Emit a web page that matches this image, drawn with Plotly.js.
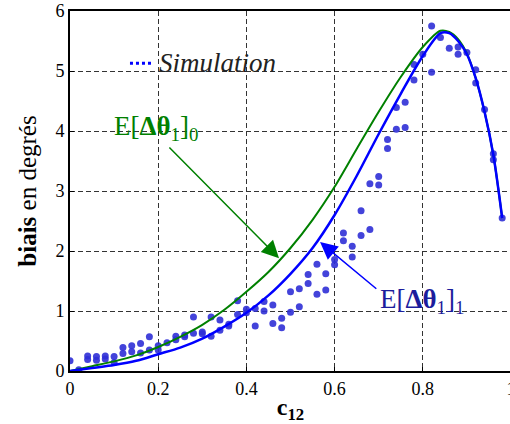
<!DOCTYPE html>
<html>
<head>
<meta charset="utf-8">
<script src="https://cdn.plot.ly/plotly-3.0.1.min.js"></script>
<style>
html,body{margin:0;padding:0;overflow:hidden;background:#fff;}
#chart{width:520px;height:424px;}
</style>
</head>
<body>
<div id="chart"></div>
<script>
// Simulation points (two runs per c12 value)
const simX  = [0.0, 0.02, 0.04, 0.06, 0.08, 0.10, 0.12, 0.14, 0.16, 0.18, 0.20, 0.22, 0.24, 0.26, 0.28, 0.30, 0.32, 0.34, 0.36, 0.38, 0.40, 0.42, 0.44, 0.46, 0.48, 0.50, 0.52, 0.54, 0.56, 0.58, 0.60, 0.62, 0.64, 0.66, 0.68, 0.70, 0.72, 0.74, 0.76, 0.78, 0.80, 0.82, 0.84, 0.86, 0.88, 0.90, 0.92, 0.94, 0.96, 0.98];
const simA  = [0.17, 0.02, 0.25, 0.24, 0.25, 0.24, 0.39, 0.42, 0.46, 0.57, 0.42, 0.47, 0.58, 0.60, 0.90, 0.65, 0.90, 0.85, 0.78, 1.17, 1.03, 1.04, 1.16, 1.10, 0.88, 1.32, 1.37, 1.61, 1.78, 1.62, 1.77, 2.17, 2.08, 2.67, 2.36, 3.24, 3.71, 4.03, 4.48, 4.85, 5.28, 5.75, 5.56, 5.38, 5.28, 5.31, 5.02, 4.36, 3.62, 2.55];
const simB  = [null, null, 0.19, 0.18, 0.20, 0.14, 0.29, 0.32, 0.30, 0.35, 0.35, null, 0.52, 0.57, 0.63, 0.62, 0.58, 0.68, 0.75, 0.94, 0.97, 0.75, 1.00, 0.79, 0.72, 0.98, 1.07, 1.46, 1.28, 1.35, 1.86, 2.30, 1.90, 2.26, 3.12, 3.10, 3.86, 4.39, 4.06, 5.11, null, 4.98, null, null, 5.40, null, 4.80, null, 3.52, null];

// Theoretical curves
const curveX = [0, 0.05, 0.10, 0.15, 0.20, 0.25, 0.30, 0.35, 0.40, 0.45, 0.50, 0.55, 0.60, 0.65, 0.70, 0.75, 0.80, 0.84, 0.86, 0.88, 0.90, 0.92, 0.94, 0.96, 0.98];
const bias0  = [0, 0.08, 0.16, 0.26, 0.40, 0.57, 0.77, 1.02, 1.32, 1.65, 2.05, 2.52, 3.07, 3.70, 4.32, 4.90, 5.40, 5.67, 5.65, 5.53, 5.29, 4.88, 4.32, 3.60, 2.55];
const bias1  = [0, 0.05, 0.10, 0.17, 0.28, 0.39, 0.54, 0.74, 0.97, 1.26, 1.62, 2.05, 2.60, 3.25, 3.95, 4.62, 5.25, 5.63, 5.63, 5.50, 5.28, 4.88, 4.32, 3.60, 2.55];

const xTicks = [0, 0.2, 0.4, 0.6, 0.8, 1];
const xTickText = ['0', '0.2', '0.4', '0.6', '0.8', '1'];
const yTicks = [0, 1, 2, 3, 4, 5, 6];

const serif = 'Liberation Serif';

const ptX = [], ptY = [];
simX.forEach((x, i) => {
  ptX.push(x); ptY.push(simA[i]);
  if (simB[i] !== null) { ptX.push(x); ptY.push(simB[i]); }
});

const traces = [
  {x: ptX, y: ptY, mode: 'markers', type: 'scatter', name: 'Simulation',
   marker: {color: '#2f2fd6', size: 7, opacity: 0.9}},
  {x: curveX, y: bias0, mode: 'lines', type: 'scatter', name: 'E0',
   line: {color: '#008000', width: 2, shape: 'spline', smoothing: 0.8}},
  {x: curveX, y: bias1, mode: 'lines', type: 'scatter', name: 'E1',
   line: {color: '#0000ff', width: 2.5, shape: 'spline', smoothing: 0.8}}
];

const gridCommon = {
  showgrid: true, gridcolor: '#333', gridwidth: 1, griddash: '5px,3px',
  zeroline: false, showline: true, linecolor: '#000', linewidth: 2,
  ticks: 'inside', ticklen: 4, tickcolor: '#000',
  tickfont: {family: serif, size: 18, color: '#000'}
};

const layout = {
  width: 520, height: 424,
  margin: {l: 70, r: 9, t: 11, b: 53},
  paper_bgcolor: '#fff', plot_bgcolor: '#fff',
  showlegend: false,
  xaxis: Object.assign({}, gridCommon, {
    range: [0, 1], tickvals: xTicks, ticktext: xTickText, mirror: true,
    title: {text: '<b>c<sub>12</sub></b>', font: {family: serif, size: 24, color: '#000'}, standoff: 4}
  }),
  yaxis: Object.assign({}, gridCommon, {
    range: [0, 6], tickvals: yTicks, mirror: true,
    title: {text: '<b>biais</b> en degrés', font: {family: serif, size: 25, color: '#000'}, standoff: 12}
  }),
  shapes: [
    {type: 'line', xref: 'x', yref: 'y', x0: 0.136, x1: 0.188, y0: 5.13, y1: 5.13,
     line: {color: '#0000ff', width: 3, dash: 'dot'}}
  ],
  annotations: [
    {xref: 'x', yref: 'y', x: 0.197, y: 5.13, xanchor: 'left', yanchor: 'middle', showarrow: false,
     text: '<i>Simulation</i>', font: {family: serif, size: 27, color: '#222'}},
    {xref: 'x', yref: 'y', x: 0.195, y: 4.05, xanchor: 'center', yanchor: 'middle', showarrow: false,
     text: 'E[<b>Δθ</b><sub>1</sub>]<sub>0</sub>', font: {family: serif, size: 27, color: '#008000'}},
    {xref: 'x', yref: 'y', x: 0.798, y: 1.16, xanchor: 'center', yanchor: 'middle', showarrow: false,
     text: 'E[<b>Δθ</b><sub>1</sub>]<sub>1</sub>', font: {family: serif, size: 27, color: '#1c1c9c'}},
    {xref: 'x', yref: 'y', x: 0.474, y: 1.88, axref: 'x', ayref: 'y', ax: 0.222, ay: 3.75,
     text: '', showarrow: true, arrowhead: 2, arrowsize: 2.3, arrowwidth: 1.5, arrowcolor: '#008000', standoff: 0},
    {xref: 'x', yref: 'y', x: 0.567, y: 2.15, axref: 'x', ayref: 'y', ax: 0.698, ay: 1.35,
     text: '', showarrow: true, arrowhead: 2, arrowsize: 2.3, arrowwidth: 1.5, arrowcolor: '#0000ff', standoff: 0}
  ]
};

Plotly.newPlot('chart', traces, layout, {displayModeBar: false, staticPlot: true});
</script>
</body>
</html>
